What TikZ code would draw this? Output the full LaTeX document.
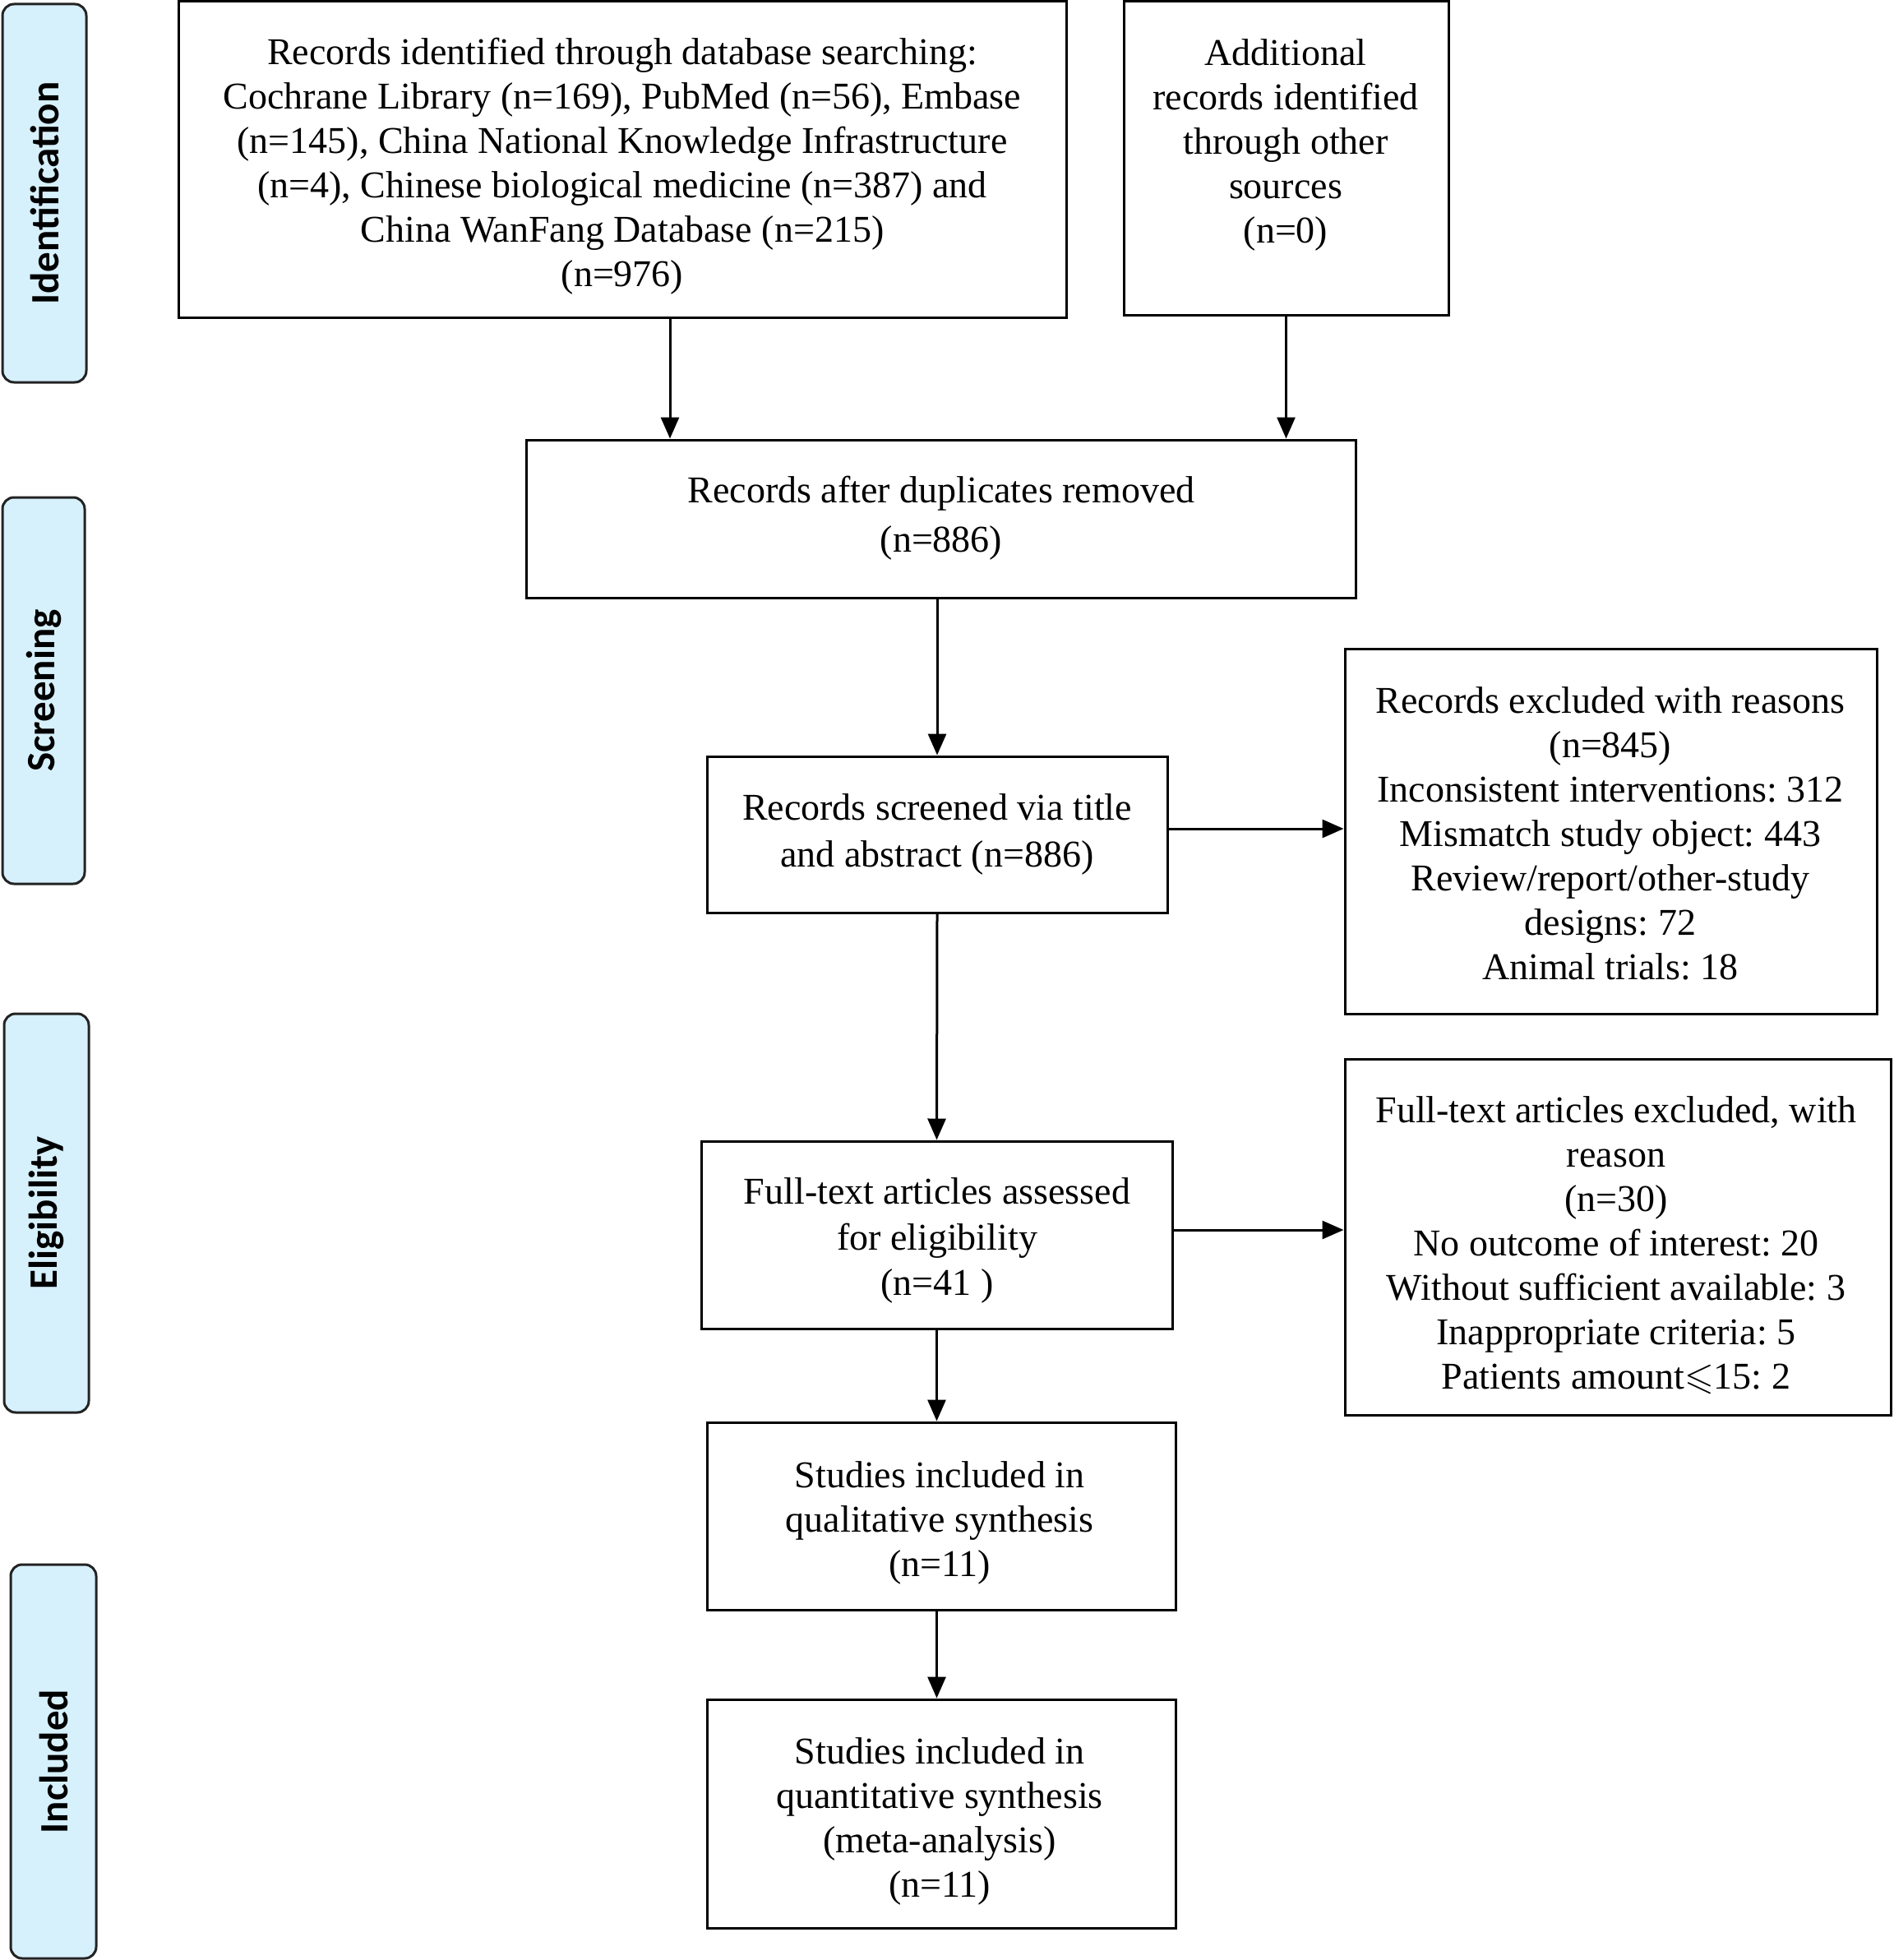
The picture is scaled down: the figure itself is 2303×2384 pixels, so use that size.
\documentclass[tikz,border=0pt]{standalone}
\usepackage{fontspec}
\usepackage{amssymb}
\usepackage{graphicx}
\setmainfont{Liberation Serif}
\newfontfamily\labelfont{Carlito}
\usetikzlibrary{arrows.meta,calc}
\definecolor{lblfill}{RGB}{214,240,252}
\definecolor{lbldraw}{RGB}{35,35,35}
\frenchspacing
\begin{document}
\begin{tikzpicture}[x=1pt,y=-1pt,
  box/.style={draw=black, line width=3pt, inner sep=0pt},
  txt/.style={align=center, inner sep=0pt, font=\fontsize{46}{54}\selectfont},
  phase/.style={draw=lbldraw, fill=lblfill, line width=3pt, rounded corners=14pt, inner sep=0pt,
    font=\labelfont\bfseries\fontsize{49}{55}\selectfont},
  arr/.style={line width=3pt, -{Triangle[width=22pt,length=26pt]}}]
\useasboundingbox (0,0) rectangle (2303,2384);

% phase labels
\node[phase, minimum width=102pt, minimum height=460pt] (pid) at (54,235) {\rotatebox{90}{Identification}};
\node[phase, minimum width=100pt, minimum height=470pt] (pscr) at (53,840) {\rotatebox{90}{Screening}};
\node[phase, minimum width=103pt, minimum height=485pt] (pel) at (56.5,1475.5) {\rotatebox{90}{Eligibility}};
\node[phase, minimum width=104pt, minimum height=479pt] (pinc) at (65,2142.5) {\rotatebox{90}{Included}};

% boxes
\node[box, minimum width=1080pt, minimum height=384pt] (tl) at (757,194) {};
\node[box, minimum width=395pt, minimum height=381pt] (tr) at (1564.5,192.5) {};
\node[box, minimum width=1009pt, minimum height=192pt] (dup) at (1144.5,631) {};
\node[box, minimum width=560pt, minimum height=190pt] (scr) at (1140,1015) {};
\node[box, minimum width=647pt, minimum height=444pt] (ex1) at (1959.5,1011) {};
\node[box, minimum width=573pt, minimum height=228pt] (ft) at (1139.5,1502) {};
\node[box, minimum width=664pt, minimum height=433pt] (ex2) at (1968,1505) {};
\node[box, minimum width=570pt, minimum height=228pt] (qual) at (1145,1844) {};
\node[box, minimum width=570pt, minimum height=278pt] (quant) at (1145,2206) {};

% texts
\node[txt] (tltext) at (757,202) {Records identified through database searching:\\
Cochrane Library (n=169), PubMed (n=56), Embase\\
(n=145), China National Knowledge Infrastructure\\
(n=4), Chinese biological medicine (n=387) and\\
China WanFang Database (n=215)\\
(n=976)};
\node[txt] (trtext) at (1564,176) {Additional\\ records identified\\ through other\\ sources\\ (n=0)};
\node[txt, font=\fontsize{46}{60}\selectfont] (duptext) at (1145,630) {Records after duplicates removed\\ (n=886)};
\node[txt, font=\fontsize{46}{57}\selectfont] (scrtext) at (1140,1015) {Records screened via title\\ and abstract (n=886)};
\node[txt] (ex1text) at (1959,1014) {Records excluded with reasons\\ (n=845)\\ Inconsistent interventions: 312\\ Mismatch study object: 443\\ Review/report/other-study\\ designs: 72\\ Animal trials: 18};
\node[txt, font=\fontsize{46}{55.5}\selectfont] (fttext) at (1140,1509) {Full-text articles assessed\\ for eligibility\\ (n=41 )};
\node[txt] (ex2text) at (1966,1515) {Full-text articles excluded, with\\ reason\\ (n=30)\\ No outcome of interest: 20\\ Without sufficient available: 3\\ Inappropriate criteria: 5\\ Patients amount$\leqslant$15: 2};
\node[txt] (qualtext) at (1143,1852) {Studies included in\\ qualitative synthesis\\ (n=11)};
\node[txt] (quanttext) at (1143,2215) {Studies included in\\ quantitative synthesis\\ (meta-analysis)\\ (n=11)};

% arrows
\draw[arr] ($(tl.south)+(58,0)$) -- ($(tl.south |- dup.north)+(58,0)$);
\draw[arr] (tr.south) -- (tr.south |- dup.north);
\draw[arr] (scr.north |- dup.south) -- (scr.north);
\draw[arr] ($(scr.east)+(0,-7)$) -- ($(scr.east -| ex1.west)+(0,-7)$);
\draw[arr] (scr.south) -- (ft.north);
\draw[arr] ($(ft.east)+(0,-6)$) -- ($(ft.east -| ex2.west)+(0,-6)$);
\draw[arr] (ft.south) -- (ft.south |- qual.north);
\draw[arr] (ft.south |- qual.south) -- (ft.south |- quant.north);
\end{tikzpicture}
\end{document}
